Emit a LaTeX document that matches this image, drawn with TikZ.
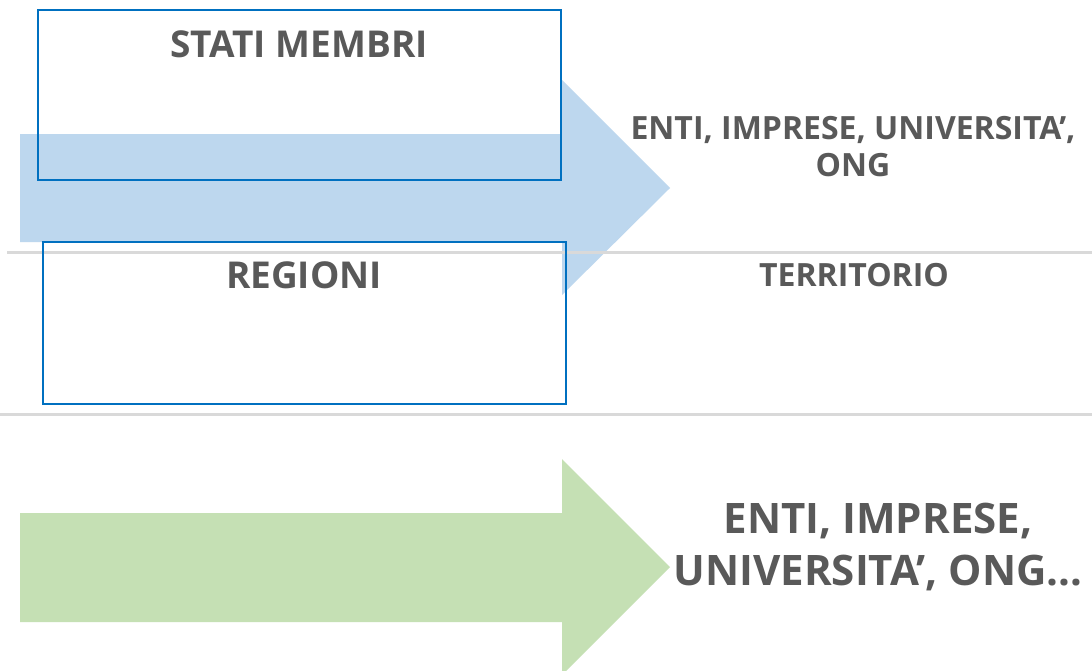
\documentclass[tikz,border=0pt]{standalone}
\usepackage{xcolor}
\usepackage{fontspec}
\setmainfont{Open Sans}
\usepackage{tikz}

\definecolor{grigio}{HTML}{595959}
\definecolor{bordo}{HTML}{0070C0}
\definecolor{azzurro}{HTML}{BDD7EE}
\definecolor{verde}{HTML}{C5E0B4}
\definecolor{riga}{HTML}{D9D9D9}

\begin{document}
\begin{tikzpicture}[x=1pt, y=-1pt,
    box/.style={draw=bordo, line width=2pt, inner sep=0pt, minimum width=523pt},
    titolo/.style={text=grigio, font=\bfseries\fontsize{37}{46}\selectfont, anchor=base},
    testo/.style={text=grigio, font=\bfseries\fontsize{32}{37}\selectfont, align=center},
    grande/.style={text=grigio, font=\bfseries\fontsize{42}{52}\selectfont, align=center}]
    \useasboundingbox[fill=white] (0,0) rectangle (1092,670);
    % frecce
    \fill[azzurro] (20,134) -- (562,134) -- (562,80) -- (670,188) -- (562,295) -- (562,242) -- (20,242) -- cycle;
    \fill[verde] (20,513) -- (562,513) -- (562,459) -- (670,567) -- (562,675) -- (562,622) -- (20,622) -- cycle;
    % righe
    \draw[riga, line width=3pt] (7,252) -- (1092,252);
    \draw[riga, line width=3pt] (0,414) -- (1092,414);
    % riquadri
    \node[box, minimum height=170pt] at (299.5, 95) (stati) {};
    \node[box, minimum height=162pt] at (304.5, 323) (regioni) {};
    \node[titolo] at (299, 57) (t1) {STATI MEMBRI};
    \node[titolo] at (304, 288) (t2) {REGIONI};
    % testi a destra
    \node[testo] at (853, 147) (enti) {ENTI, IMPRESE, UNIVERSITA’,\\ONG};
    \node[testo, anchor=base] at (854, 286) (terr) {TERRITORIO};
    \node[grande] at (878, 547) (enti2) {ENTI, IMPRESE,\\UNIVERSITA’, ONG…};
\end{tikzpicture}
\end{document}
